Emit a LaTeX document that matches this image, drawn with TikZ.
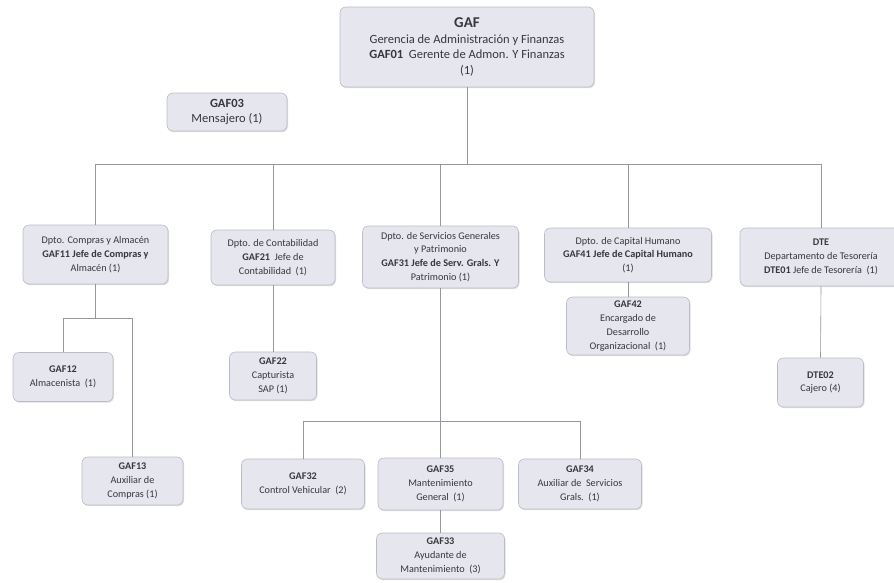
\documentclass[tikz,border=0pt]{standalone}
\usepackage{fontspec}
\setmainfont{Carlito}
\usetikzlibrary{shadows}
\definecolor{boxfill}{RGB}{230,230,238}
\definecolor{boxline}{RGB}{188,188,198}
\definecolor{linecol}{RGB}{150,150,158}
\definecolor{txt}{RGB}{55,55,62}
\tikzset{
  box/.style={draw=boxline, line width=0.6pt, fill=boxfill, rounded corners=6pt,
    align=center, inner sep=1pt, text=txt,
    font=\fontsize{10.2}{13.8}\selectfont,
    drop shadow={shadow xshift=1pt, shadow yshift=-1.2pt, opacity=0.25, fill=gray}},
  bigbox/.style={box, font=\fontsize{12.5}{15.5}\selectfont},
  bx/.style 2 args={minimum width=#1pt, minimum height=#2pt},
  conn/.style={draw=linecol, line width=0.6pt}
}
\begin{document}
\begin{tikzpicture}[x=1pt,y=-1pt]
\useasboundingbox (0,0) rectangle (894,582);
\clip (0,0) rectangle (894,582);
\fill[white] (0,0) rectangle (894,582);

% nodes
\node[bigbox, bx={254}{80}] (gaf) at (467,47)
  {{\fontsize{15}{17}\selectfont\bfseries GAF}\\Gerencia de Administración y Finanzas\\\textbf{GAF01}\ \ Gerente de Admon. Y Finanzas\\(1)};
\node[bigbox, bx={120}{38}] (gaf03) at (227,112) {\textbf{GAF03}\\Mensajero (1)};

\node[box, bx={145}{59}] (compras) at (95.5,254.5)
  {Dpto. Compras y Almacén\\\textbf{GAF11 Jefe de Compras y}\\Almacén (1)};
\node[box, bx={124}{55}] (contab) at (273,257.5)
  {Dpto. de Contabilidad\\\textbf{GAF21}\ \ Jefe de\\Contabilidad\ \ (1)};
\node[box, bx={156}{62}] (serv) at (440.5,257)
  {Dpto. de Servicios Generales\\y Patrimonio\\\textbf{GAF31 Jefe de Serv. Grals. Y}\\Patrimonio (1)};
\node[box, bx={167}{54}] (capital) at (628,255)
  {Dpto. de Capital Humano\\\textbf{GAF41 Jefe de Capital Humano}\\(1)};
\node[box, bx={162}{58}] (dte) at (821,257)
  {\textbf{DTE}\\Departamento de Tesorería\\\textbf{DTE01} Jefe de Tesorería\ \ (1)};

\node[box, bx={100}{49}] (gaf12) at (63,377) {\textbf{GAF12}\\Almacenista\ \ (1)};
\node[box, bx={101}{48}] (gaf13) at (132.5,481) {\textbf{GAF13}\\Auxiliar de\\Compras (1)};
\node[box, bx={87}{48}] (gaf22) at (273,376) {\textbf{GAF22}\\Capturista\\SAP (1)};
\node[box, bx={123}{58}] (gaf42) at (628,326)
  {\textbf{GAF42}\\Encargado de\\Desarrollo\\Organizacional\ \ (1)};
\node[box, bx={86}{49}] (dte02) at (820.5,382.5) {\textbf{DTE02}\\Cajero (4)};

\node[box, bx={123}{50}] (gaf32) at (303,484) {\textbf{GAF32}\\Control Vehicular\ \ (2)};
\node[box, bx={125}{52}] (gaf35) at (440.5,484) {\textbf{GAF35}\\Mantenimiento\\General\ \ (1)};
\node[box, bx={123}{50}] (gaf34) at (580,484) {\textbf{GAF34}\\Auxiliar de\ \ Servicios\\Grals.\ \ (1)};
\node[box, bx={128}{46}] (gaf33) at (440.5,556) {\textbf{GAF33}\\Ayudante de\\Mantenimiento\ \ (3)};

% bus coordinates
\coordinate (bus) at (0,164);
\coordinate (busc) at (0,318);
\coordinate (buss) at (0,421);

% connectors
\draw[conn] (gaf.south) -- (gaf.south |- bus);
\draw[conn] (compras.north |- bus) -- (dte.north |- bus);
\foreach \n in {compras,contab,serv,capital,dte}
  \draw[conn] (\n.north |- bus) -- (\n.north);

\draw[conn] (compras.south) -- (compras.south |- busc);
\draw[conn] (gaf12.north |- busc) -- (gaf13.north |- busc);
\draw[conn] (gaf12.north |- busc) -- (gaf12.north);
\draw[conn] (gaf13.north |- busc) -- (gaf13.north);

\draw[conn] (contab.south) -- (gaf22.north);
\draw[conn] (capital.south) -- (gaf42.north);
\draw[conn] (dte.south) -- (dte02.north);

\draw[conn] (serv.south) -- (serv.south |- buss);
\draw[conn] (gaf32.north |- buss) -- (gaf34.north |- buss);
\foreach \n in {gaf32,gaf35,gaf34}
  \draw[conn] (\n.north |- buss) -- (\n.north);
\draw[conn] (gaf35.south) -- (gaf33.north);
\end{tikzpicture}
\end{document}
